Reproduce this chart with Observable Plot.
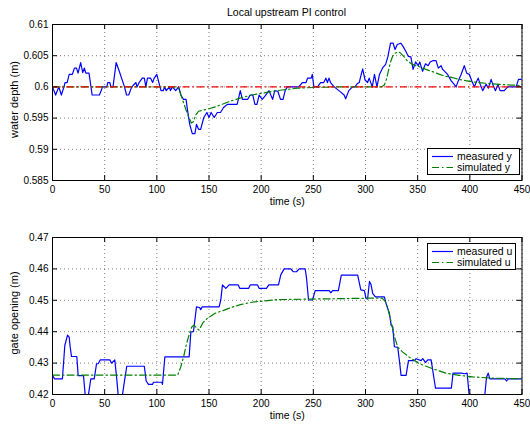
<!DOCTYPE html>
<html><head><meta charset="utf-8">
<script src="https://cdn.jsdelivr.net/npm/d3@7"></script>
<script src="https://cdn.jsdelivr.net/npm/@observablehq/plot@0.6"></script>
<style>
body{margin:0;background:#fff;font-family:"Liberation Sans",Arial,sans-serif;}
#wrap{position:relative;width:530px;height:425px;overflow:hidden;background:#fff}
#title{position:absolute;left:52px;width:469px;top:5px;height:14px;text-align:center;font-size:10.5px;line-height:14px;color:#000}
#p1{position:absolute;left:0;top:18px}
#p2{position:absolute;left:0;top:212px}
.legend{position:absolute;border:1px solid #000;background:#fff;box-sizing:border-box;font-size:10.5px;color:#000}
.legend svg{position:absolute;left:0;top:0}
.legend span{position:absolute;white-space:nowrap;line-height:12px}
</style></head>
<body><div id="wrap"><div id="title"></div><div id="p1"></div><div id="p2"></div></div>
<script>
// ---------- data ----------
const titleText = "Local upstream PI control";
const xTicks = [0, 50, 100, 150, 200, 250, 300, 350, 400, 450];
const xLabel = "time (s)";

// top panel: water depth
const yTicksDepth = [0.585, 0.59, 0.595, 0.6, 0.605, 0.61];
const depthLabel = "water depth (m)";
const refDepth = 0.6;
const tMeasY = [0,3,6,8.5,11,12,14,16,19,21,23,24.5,27,29,30.5,32,35,38,45,48,52,53,55,56,58,61,64,69,71,73,76,80,81,83,86,88,89.5,91,94,96,97.5,100,102,104,106,107.5,109,112,113,115,118,121,123,125.5,128,129.5,131.5,134,136.5,138,140,142,145,148,150,152,155,158,161,164,167.5,177,180,182,187,189.5,192,194,196,198,201,204,207.5,211,213,216,218.5,221,223,225,230,236,239.5,243,244.5,248,249,250.5,254,257,260,262,263.5,265,266.5,270,273,276,279.5,281,284,287.5,290,292,294,295,297.3,299.6,302,303.5,306.5,308.6,311,313.4,316.6,319.3,321.4,324,326.5,328.3,330.5,333.8,336,338.6,341,343.5,345.6,348,350.5,352,354.7,357.5,360,362,364.4,367.6,369.8,372.4,374,378.7,382,385,386.8,389,391.6,394.7,397,399.6,401.8,404.4,406,408,410,412.3,415.6,417.8,420.4,422,424.5,427,429,433,436.3,444.4,446.6,450];
const measY = [0.600,0.5987,0.600,0.5987,0.600,0.6007,0.6007,0.602,0.602,0.603,0.603,0.6022,0.6039,0.6023,0.603,0.6022,0.6022,0.5987,0.5987,0.600,0.600,0.6007,0.6007,0.600,0.600,0.6039,0.6025,0.600,0.5987,0.5987,0.600,0.6007,0.600,0.6007,0.6014,0.6014,0.600,0.6014,0.6014,0.6007,0.6014,0.602,0.6007,0.5994,0.5994,0.600,0.5994,0.600,0.5994,0.600,0.5994,0.600,0.5987,0.598,0.598,0.5962,0.594,0.5925,0.5925,0.594,0.5932,0.5932,0.5951,0.5959,0.5951,0.5959,0.5951,0.5959,0.5959,0.5967,0.5972,0.5972,0.5994,0.598,0.598,0.5987,0.5987,0.5972,0.5972,0.5987,0.598,0.5986,0.5994,0.598,0.5994,0.5993,0.598,0.598,0.5994,0.600,0.600,0.600,0.6007,0.6007,0.6014,0.6014,0.602,0.600,0.600,0.6007,0.6007,0.6014,0.6007,0.6014,0.6007,0.600,0.5996,0.5992,0.5987,0.5981,0.5994,0.600,0.600,0.6005,0.6007,0.6014,0.6029,0.6011,0.6007,0.6014,0.600,0.602,0.600,0.602,0.6031,0.6036,0.6048,0.607,0.607,0.606,0.6068,0.607,0.6065,0.6057,0.6049,0.6048,0.6028,0.604,0.6034,0.604,0.6025,0.6037,0.6034,0.604,0.6042,0.6042,0.603,0.6034,0.6028,0.602,0.601,0.6004,0.600,0.601,0.602,0.6034,0.6022,0.602,0.601,0.600,0.6007,0.6014,0.6004,0.5994,0.6004,0.5998,0.6012,0.6004,0.5994,0.6004,0.5994,0.5994,0.600,0.600,0.6012,0.6012];
const tSimY = [0,120,122,125,128,131,133,135,137,140,145,150,156,164,172,182,191,201,211,220,235,250,270,290,305,315,318,320,322,324,326,328.5,331,333,336,340,345,352,358,365,371,377,383,390,396,403,409,420,428,440,450];
const simY = [0.6,0.6,0.5993,0.5978,0.5963,0.595,0.5942,0.5944,0.5954,0.5961,0.5963,0.5965,0.5968,0.5973,0.5978,0.5983,0.5987,0.599,0.5993,0.5995,0.5998,0.5999,0.6,0.6,0.6,0.6,0.6003,0.6012,0.6026,0.604,0.6049,0.6054,0.6056,0.6055,0.605,0.6042,0.6036,0.6032,0.6028,0.6024,0.602,0.6017,0.6015,0.6012,0.601,0.6008,0.6007,0.6005,0.6004,0.6003,0.6002];
const legendDepth = ["measured y", "simulated y"];

// bottom panel: gate opening
const yTicksGate = [0.42, 0.43, 0.44, 0.45, 0.46, 0.47];
const gateLabel = "gate opening (m)";
const tMeasU = [0,2,9.5,11.8,14.4,16,17,18.2,23.3,24.6,29.7,31.3,34.5,36.7,40,42.2,43.8,45.7,55,56.6,59.7,61.3,62.9,67.1,69.3,71.2,88,89.8,92,95.8,96.8,104.8,105.4,107.7,131,132.6,135.1,138,141,142,143.5,159.7,161.3,162.9,166.1,169.3,178,179.5,188,189.5,196.5,198,205,207.4,216.6,218.8,222,228.4,230.7,233.9,236.4,242.2,243.5,245.4,249.2,251.8,265.2,266.8,268.4,274,276.8,292.5,295.5,298.9,300.5,302,303.8,305.3,306.9,309.5,318.1,319.7,322.9,324.6,326.1,327.7,330.9,332.5,334.1,338.9,341.2,346.9,348.5,353.3,354.9,357.5,359.7,362.9,367.1,382.3,383.9,391.9,395.1,397.4,399.3,414.4,416,417.6,419.2,433.6,435.2,436.8,450];
const measU = [0.426,0.425,0.425,0.4356,0.4389,0.4383,0.435,0.4321,0.4321,0.426,0.426,0.42,0.42,0.425,0.425,0.4298,0.4298,0.431,0.431,0.43,0.431,0.426,0.42,0.42,0.425,0.429,0.429,0.4243,0.4232,0.4232,0.4239,0.4239,0.4232,0.432,0.432,0.4399,0.44,0.4479,0.4477,0.447,0.4479,0.4479,0.4501,0.4549,0.4538,0.4549,0.4549,0.4538,0.4538,0.4549,0.4549,0.4538,0.4538,0.4549,0.4549,0.4581,0.46,0.46,0.4591,0.4591,0.46,0.46,0.457,0.4501,0.4501,0.4531,0.4531,0.4524,0.4531,0.4531,0.458,0.458,0.4533,0.4531,0.4506,0.4504,0.456,0.455,0.4522,0.4511,0.4511,0.449,0.4459,0.442,0.4416,0.4352,0.435,0.4308,0.4261,0.4261,0.4308,0.4308,0.4314,0.4308,0.4314,0.4302,0.431,0.431,0.422,0.422,0.4268,0.4268,0.4266,0.4268,0.42,0.42,0.4255,0.4268,0.425,0.425,0.4243,0.425,0.425];
const tSimU = [0,120,123,126,128,131,133.5,135.5,138,140.5,144,148.5,156,164,172,180,188,196,204,215,230,250,270,290,305,316,319,321.3,324.5,327.7,330.9,335.7,342,351.6,364.4,377.2,390,402.8,422,450];
const simU = [0.4262,0.4262,0.4288,0.4325,0.4355,0.4392,0.4415,0.4421,0.4412,0.4405,0.4428,0.4443,0.4459,0.4468,0.4478,0.4486,0.4492,0.4496,0.4498,0.4502,0.4503,0.4504,0.4505,0.4506,0.4507,0.4507,0.4496,0.4475,0.4432,0.4385,0.4351,0.4335,0.4319,0.4298,0.4282,0.4268,0.4261,0.4256,0.4252,0.425];
const legendGate = ["measured u", "simulated u"];

// ---------- styles ----------
const BLUE = "#0000ff", GREEN = "#008000", RED = "#ff0000";
const DASHDOT = "7,3,1.5,3";
const fmt = d => String(+d.toFixed(3));

function panel({height, marginTop, marginBottom, yDomain, yTicks, ylabel, marks}) {
  const W = 530, mL = 52, mR = 8.5;
  const fw = W - mL - mR, fh = height - marginTop - marginBottom, tk = 5;
  return Plot.plot({
    width: W, height, marginLeft: mL, marginRight: mR, marginTop, marginBottom,
    style: {fontFamily: "'Liberation Sans', Arial, sans-serif", fontSize: "10px", color: "#000", background: "#fff", overflow: "visible"},
    x: {domain: [0, 450]},
    y: {domain: yDomain},
    marks: [
      Plot.gridX(xTicks, {stroke: "#000", strokeOpacity: 0.5, strokeDasharray: "1,3"}),
      Plot.gridY(yTicks, {stroke: "#000", strokeOpacity: 0.5, strokeDasharray: "1,3"}),
      ...marks,
      Plot.tickY(yTicks, {y: d => d, insetRight: fw - tk, stroke: "#000"}),
      Plot.tickY(yTicks, {y: d => d, insetLeft: fw - tk, stroke: "#000"}),
      Plot.tickX(xTicks, {x: d => d, insetTop: fh - tk, stroke: "#000"}),
      Plot.tickX(xTicks, {x: d => d, insetBottom: fh - tk, stroke: "#000"}),
      Plot.frame({stroke: "#000"}),
      Plot.axisX(xTicks, {tickSize: 0, tickPadding: 5, label: null, fontSize: 10}),
      Plot.axisY(yTicks, {tickSize: 0, tickPadding: 4, label: null, tickFormat: fmt, fontSize: 10}),
      Plot.text([xLabel], {frameAnchor: "bottom", dy: 21, text: d => d, fontSize: 10.5, lineAnchor: "middle", textAnchor: "middle"}),
      Plot.text([ylabel], {frameAnchor: "left", rotate: -90, dx: -38, dy: -3, text: d => d, fontSize: 11, textAnchor: "middle", lineAnchor: "middle"})
    ]
  });
}

const top1 = panel({
  height: 194, marginTop: 6, marginBottom: 32,
  yDomain: [0.585, 0.61], yTicks: yTicksDepth, ylabel: depthLabel,
  marks: [
    Plot.line(tMeasY, {x: tMeasY, y: measY, stroke: BLUE, strokeWidth: 1.2, clip: true}),
    Plot.line(tSimY, {x: tSimY, y: simY, stroke: GREEN, strokeWidth: 1.2, strokeDasharray: DASHDOT, clip: true}),
    Plot.ruleY([refDepth], {stroke: RED, strokeWidth: 1.2, strokeDasharray: DASHDOT})
  ]
});
const bot1 = panel({
  height: 213, marginTop: 25, marginBottom: 31,
  yDomain: [0.42, 0.47], yTicks: yTicksGate, ylabel: gateLabel,
  marks: [
    Plot.line(tMeasU, {x: tMeasU, y: measU, stroke: BLUE, strokeWidth: 1.2, clip: true}),
    Plot.line(tSimU, {x: tSimU, y: simU, stroke: GREEN, strokeWidth: 1.2, strokeDasharray: DASHDOT, clip: true})
  ]
});
document.getElementById("p1").appendChild(top1);
document.getElementById("p2").appendChild(bot1);
document.getElementById("title").textContent = titleText;

function legend(labels, box) {
  const el = document.createElement("div");
  el.className = "legend";
  Object.assign(el.style, {left: box.left + "px", top: box.top + "px", width: box.width + "px", height: box.height + "px"});
  const ns = "http://www.w3.org/2000/svg";
  const svg = document.createElementNS(ns, "svg");
  svg.setAttribute("width", box.width); svg.setAttribute("height", box.height);
  const styles = [{stroke: BLUE, dash: null}, {stroke: GREEN, dash: DASHDOT}];
  labels.forEach((lab, i) => {
    const cy = 7.5 + i * 11;
    const ln = document.createElementNS(ns, "line");
    ln.setAttribute("x1", 4); ln.setAttribute("x2", 25);
    ln.setAttribute("y1", cy); ln.setAttribute("y2", cy);
    ln.setAttribute("stroke", styles[i].stroke); ln.setAttribute("stroke-width", 1.2);
    if (styles[i].dash) ln.setAttribute("stroke-dasharray", styles[i].dash);
    svg.appendChild(ln);
    const sp = document.createElement("span");
    sp.textContent = lab;
    sp.style.left = "29px"; sp.style.top = (cy - 7) + "px";
    el.appendChild(sp);
  });
  el.insertBefore(svg, el.firstChild);
  document.getElementById("wrap").appendChild(el);
}
legend(legendDepth, {left: 427, top: 148, width: 93, height: 27});
legend(legendGate, {left: 427, top: 243, width: 89, height: 27});
</script></body></html>
